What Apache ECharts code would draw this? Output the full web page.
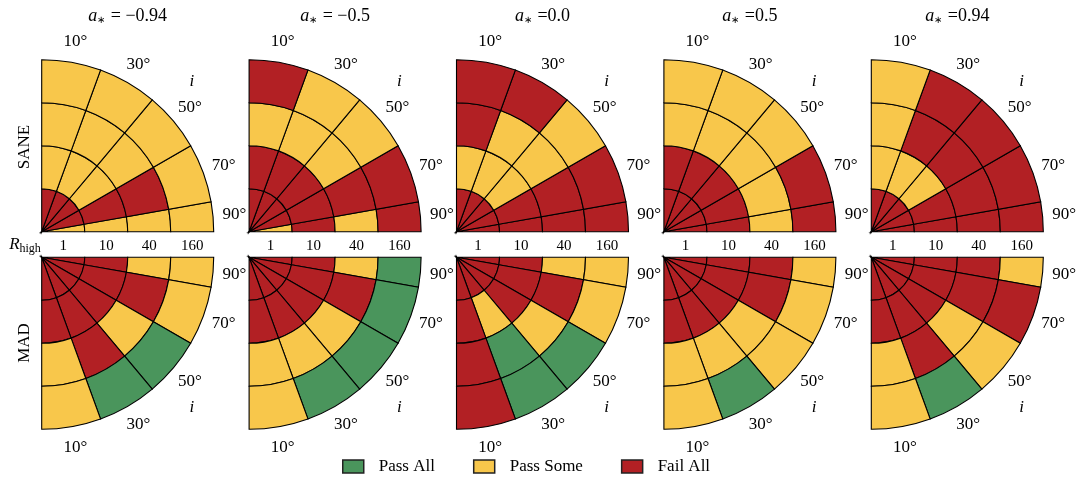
<!DOCTYPE html>
<html><head><meta charset="utf-8">
<script src="https://cdn.jsdelivr.net/npm/echarts@6/dist/echarts.min.js"></script>
<style>html,body{margin:0;padding:0;background:#fff}#c{width:1078px;height:481px}</style>
</head><body><div id="c"></div>
<script>
// ---------------- data ----------------
const spinValues = ['−0.94', '−0.5', '0.0', '0.5', '0.94'];
const spinEquals = [' = ', ' = ', ' =', ' =', ' ='];
const models = ['SANE', 'MAD'];
const rHighLabels = ['1', '10', '40', '160'];
const incLabels = ['10°', '30°', '50°', '70°', '90°'];
const incEdges = [0, 20, 40, 60, 80, 90];
const statusNames = ['Pass All', 'Pass Some', 'Fail All'];
// status per inclination sector (10°,30°,50°,70°,90°); characters = R_high 1,10,40,160
// G = Pass All, Y = Pass Some, R = Fail All
const sane_m094 = ['RYYY', 'RYYY', 'RYYY', 'RRRY', 'YYYY'];
const sane_m05  = ['RRYR', 'RRYY', 'RRYY', 'RRRR', 'YRYR'];
const sane_0    = ['RYRR', 'RYYR', 'RYYY', 'RRRR', 'RRRR'];
const sane_p05  = ['RRYY', 'RRYY', 'RRYY', 'RRYR', 'RRYR'];
const sane_p094 = ['RYYY', 'RYRR', 'RYRR', 'RRRR', 'RRRR'];
const mad_m094  = ['RRYY', 'RRRG', 'RRYG', 'RRRY', 'RRYY'];
const mad_m05   = ['RRYY', 'RRYG', 'RRYG', 'RRRG', 'RRYG'];
const mad_0     = ['RRRR', 'RYGG', 'RRYG', 'RRRY', 'RRYY'];
const mad_p05   = ['RRYY', 'RRYG', 'RRYY', 'RRRY', 'RRRY'];
const mad_p094  = ['RRYY', 'RRRG', 'RRYY', 'RRRR', 'RRRY'];
const grids = [
  [sane_m094, sane_m05, sane_0, sane_p05, sane_p094],
  [mad_m094, mad_m05, mad_0, mad_p05, mad_p094]
];

// ---------------- style / layout ----------------
const colors = { G: '#4a955c', Y: '#f8c74b', R: '#b22024' };
const statusColors = [colors.G, colors.Y, colors.R];
const SERIF = '"Liberation Serif", "Times New Roman", serif';
const originX = [41.7, 249.1, 456.5, 663.9, 871.3];
const originY = [231.7, 257.3];
const R = 172;
const nRings = rHighLabels.length;

const polar = [], angleAxis = [], radiusAxis = [], series = [], graphic = [];

for (let row = 0; row < 2; row++) {
  for (let col = 0; col < 5; col++) {
    const idx = row * 5 + col;
    const grid = grids[row][col];
    polar.push({ center: [originX[col], originY[row]], radius: [0, R * (nRings + 1) / nRings] });
    angleAxis.push({
      polarIndex: idx, type: 'value', min: 0, max: 360, startAngle: 0, clockwise: row === 1,
      axisLine: { show: false }, axisTick: { show: false }, axisLabel: { show: false }, splitLine: { show: false }
    });
    radiusAxis.push({
      polarIndex: idx, type: 'category', data: rHighLabels.concat([' ']),
      axisLine: { show: false }, axisTick: { show: false }, splitLine: { show: false },
      axisLabel: { show: row === 1, interval: 0, margin: 4, fontSize: 15, color: '#000', fontFamily: SERIF }
    });
    // stacked sectors, starting from i = 90 side (angle value = 90 - i)
    for (let k = incLabels.length - 1; k >= 0; k--) {
      const w = incEdges[k + 1] - incEdges[k];
      series.push({
        type: 'bar', coordinateSystem: 'polar', polarIndex: idx, stack: 'p' + idx,
        barCategoryGap: '0%', silent: true, animation: false,
        itemStyle: { borderColor: '#000', borderWidth: 1.1 },
        data: grid[k].split('').map(ch => ({ value: w, itemStyle: { color: colors[ch] } })).concat(['-'])
      });
    }
    // inclination labels at sector centres, in the outer (label) ring
    const labData = incLabels.map((t, k) => ({ value: [nRings, 90 - (incEdges[k] + incEdges[k + 1]) / 2], name: t }));
    labData.push({ value: [nRings, 45], name: 'i',
      label: { fontStyle: 'italic', fontSize: 17, offset: [13.4, row === 0 ? -13.4 : 13.4] } });
    series.push({
      type: 'scatter', coordinateSystem: 'polar', polarIndex: idx, symbolSize: 0, silent: true, animation: false,
      itemStyle: { color: '#000', opacity: 1 },
      label: { show: true, position: 'inside', formatter: '{b}', fontSize: 17, color: '#000', opacity: 1,
               textBorderWidth: 0, fontFamily: SERIF },
      data: labData
    });
  }
}

// legend proxy series
statusNames.forEach((n, i) => series.push({
  type: 'scatter', coordinateSystem: 'polar', polarIndex: 0, name: n, data: [],
  itemStyle: { color: statusColors[i], opacity: 1 }
}));

// titles
spinValues.forEach((v, c) => graphic.push({
  type: 'text', x: originX[c] + R / 2, y: 16,
  style: {
    text: '{a|a}{s|∗}{t|' + spinEquals[c] + v + '}', align: 'center', verticalAlign: 'middle',
    rich: {
      a: { fontFamily: SERIF, fontStyle: 'italic', fontSize: 18, fill: '#000' },
      s: { fontFamily: SERIF, fontSize: 10, fill: '#000', padding: [8, 1, 0, 0] },
      t: { fontFamily: SERIF, fontSize: 18, fill: '#000' }
    }
  }
}));
// row labels
const rowY = [147, 343];
models.forEach((m, r) => graphic.push({
  type: 'text', x: 25, y: rowY[r], rotation: Math.PI / 2,
  style: { text: m, align: 'center', verticalAlign: 'middle', fontFamily: SERIF, fontSize: 17, fill: '#000' }
}));
graphic.push({
  type: 'text', x: 25, y: 245,
  style: {
    text: '{r|R}{h|high}', align: 'center', verticalAlign: 'middle',
    rich: {
      r: { fontFamily: SERIF, fontStyle: 'italic', fontSize: 17, fill: '#000' },
      h: { fontFamily: SERIF, fontSize: 12, fill: '#000', padding: [8, 0, 0, 0] }
    }
  }
});

const chart = echarts.init(document.getElementById('c'), null, { renderer: 'canvas' });
chart.setOption({
  backgroundColor: '#fff',
  animation: false,
  polar, angleAxis, radiusAxis, series, graphic,
  legend: {
    data: statusNames, left: 342, top: 458, padding: 0, itemWidth: 21, itemHeight: 13, itemGap: 38,
    icon: 'rect', selectedMode: false,
    itemStyle: { borderColor: '#222', borderWidth: 1.5, opacity: 1 },
    textStyle: { fontSize: 17, fontFamily: SERIF, color: '#000', padding: [0, 0, 0, 10] }
  }
});
</script></body></html>
